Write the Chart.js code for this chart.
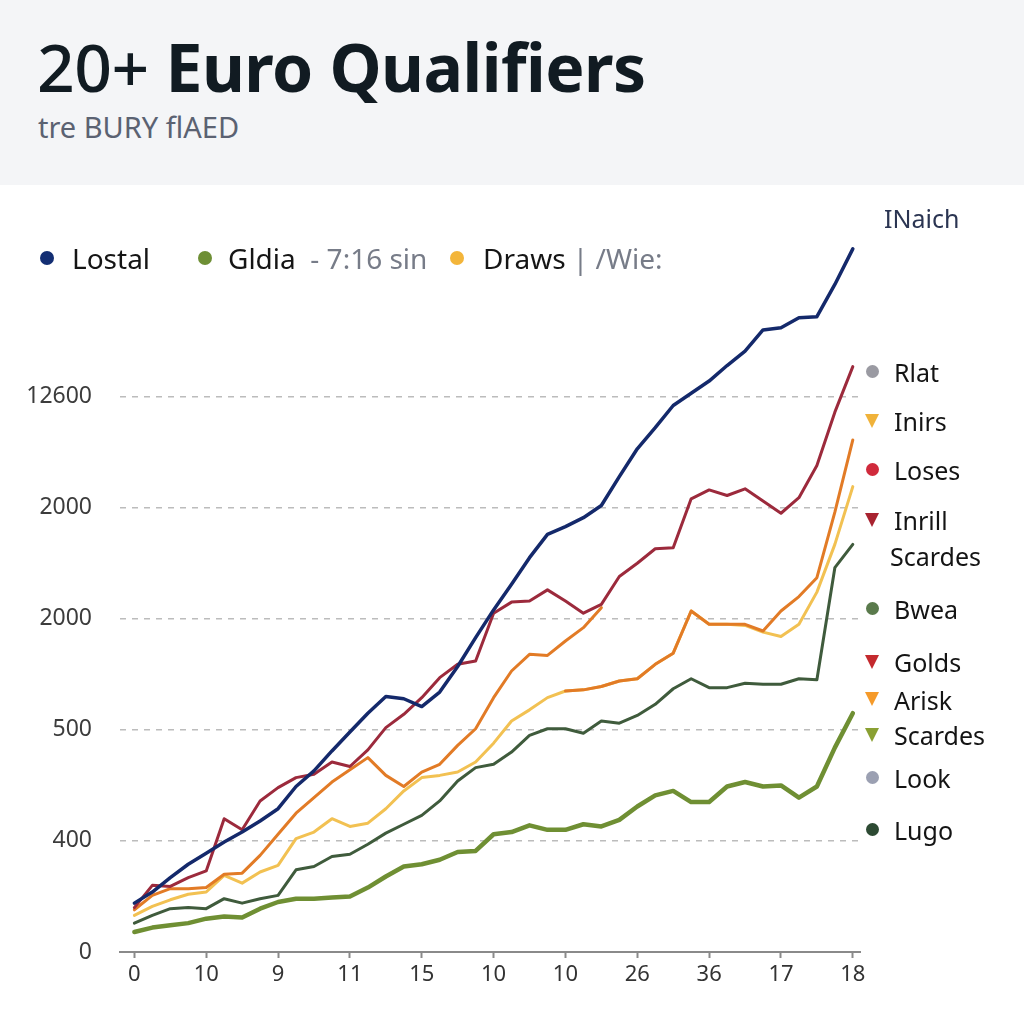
<!DOCTYPE html>
<html>
<head>
<meta charset="utf-8">
<script src="https://cdn.jsdelivr.net/npm/chart.js@4.4.0/dist/chart.umd.min.js"></script>
<style>
    html, body { margin: 0; padding: 0; width: 1024px; height: 1024px; background: #ffffff; overflow: hidden; }
    body { position: relative; font-family: 'Noto Sans', 'Open Sans', sans-serif; }
    .header { position: absolute; left: 0; top: 0; width: 1024px; height: 185px; background: #f4f5f7; }
    .title { position: absolute; left: 37px; top: 21px; font-size: 66px; font-weight: 700; color: #111b22; letter-spacing: -0.5px; white-space: nowrap; }
    .title .light { font-weight: 500; }
    .subtitle { position: absolute; left: 38px; top: 107px; font-size: 29px; color: #5b6272; white-space: nowrap; }
    .legend { position: absolute; left: 0; top: 236px; height: 44px; width: 1024px; font-size: 28px; color: #151515; }
    .legend .item { position: absolute; top: 0; white-space: nowrap; line-height: 44px; }
    .dot { position: absolute; width: 14px; height: 14px; border-radius: 50%; top: 15px; }
    .muted { color: #777c88; }
    .side { position: absolute; font-size: 25px; color: #141414; white-space: nowrap; line-height: 30px; }
    .mark { position: absolute; }
    .circle { width: 13px; height: 13px; border-radius: 50%; }
    .tri { width: 0; height: 0; border-left: 7px solid transparent; border-right: 7px solid transparent; border-top: 14px solid; }
    #wrap { position: absolute; left: 0; top: 0; width: 1024px; height: 1024px; }
</style>
</head>
<body>
<div class="header">
    <div class="title"><span class="light">20+</span> Euro Qualifiers</div>
    <div class="subtitle">tre BURY flAED</div>
</div>

<div id="wrap"><canvas id="chart" width="1024" height="1024"></canvas></div>

<div class="legend">
    <div class="dot" style="left:40px;background:#132e73"></div>
    <div class="item" style="left:72px">Lostal</div>
    <div class="dot" style="left:198px;background:#6e8f35"></div>
    <div class="item" style="left:228px">Gldia <span class="muted">&nbsp;- 7:16 sin</span></div>
    <div class="dot" style="left:450px;background:#f3b53a"></div>
    <div class="item" style="left:483px">Draws <span class="muted">| /Wie:</span></div>
</div>

<div class="side" style="left:884px;top:203px;color:#2b3552">INaich</div>

<div class="mark circle" style="left:866px;top:365px;background:#9a9aa2"></div>
<div class="side" style="left:894px;top:357px">Rlat</div>
<div class="mark tri" style="left:865px;top:414px;border-top-color:#f0b23a"></div>
<div class="side" style="left:894px;top:406px">Inirs</div>
<div class="mark circle" style="left:866px;top:463px;background:#d02a3c"></div>
<div class="side" style="left:894px;top:455px">Loses</div>
<div class="mark tri" style="left:865px;top:513px;border-top-color:#a82330"></div>
<div class="side" style="left:894px;top:505px">Inrill</div>
<div class="side" style="left:890px;top:541px">Scardes</div>
<div class="mark circle" style="left:866px;top:602px;background:#5a7a4c"></div>
<div class="side" style="left:894px;top:594px">Bwea</div>
<div class="mark tri" style="left:865px;top:655px;border-top-color:#c42a2e"></div>
<div class="side" style="left:894px;top:647px">Golds</div>
<div class="mark tri" style="left:865px;top:692px;border-top-color:#f59a2a"></div>
<div class="side" style="left:894px;top:685px">Arisk</div>
<div class="mark tri" style="left:865px;top:728px;border-top-color:#8aa033"></div>
<div class="side" style="left:894px;top:720px">Scardes</div>
<div class="mark circle" style="left:866px;top:771px;background:#9ba0b2"></div>
<div class="side" style="left:894px;top:763px">Look</div>
<div class="mark circle" style="left:866px;top:823px;background:#2d4a33"></div>
<div class="side" style="left:894px;top:815px">Lugo</div>

<script>
// Axis labels as printed
const xTickLabels = ['0', '10', '9', '11', '15', '10', '10', '26', '36', '17', '18'];
const yTickLabels = ['0', '400', '500', '2000', '2000', '12600'];

// Sample positions along the x axis (4 per labelled step)
const xs = [0, 0.25, 0.5, 0.75, 1, 1.25, 1.5, 1.75, 2, 2.25, 2.5, 2.75, 3, 3.25, 3.5, 3.75,
    4, 4.25, 4.5, 4.75, 5, 5.25, 5.5, 5.75, 6, 6.25, 6.5, 6.75, 7, 7.25, 7.5, 7.75,
    8, 8.25, 8.5, 8.75, 9, 9.25, 9.5, 9.75, 10];

// Series values (in gridline steps)
const lostal = [0.44, 0.54, 0.67, 0.79, 0.89, 0.99, 1.08, 1.18, 1.29, 1.49, 1.63, 1.81, 1.98, 2.15,
    2.30, 2.28, 2.21, 2.34, 2.57, 2.83, 3.08, 3.31, 3.55, 3.76, 3.83, 3.91, 4.02, 4.28, 4.53,
    4.72, 4.92, 5.03, 5.14, 5.28, 5.41, 5.60, 5.62, 5.71, 5.72, 6.01, 6.33];
const loses = [0.40, 0.60, 0.59, 0.67, 0.73, 1.20, 1.10, 1.36, 1.48, 1.57, 1.60, 1.71, 1.67, 1.82,
    2.02, 2.14, 2.29, 2.47, 2.59, 2.62, 3.05, 3.15, 3.16, 3.26, 3.16, 3.05, 3.13, 3.38, 3.50,
    3.63, 3.64, 4.08, 4.16, 4.11, 4.17, 4.06, 3.95, 4.09, 4.38, 4.86, 5.27];
const ariskEarly = [0.38, 0.51, 0.57, 0.57, 0.58, 0.70, 0.71, 0.87, 1.06, 1.25, 1.39, 1.53, 1.64, 1.75,
    1.59, 1.49, 1.62, 1.69, 1.86, 2.01, 2.29, 2.53, 2.68, 2.67, 2.80, 2.92, 3.10,
    null, null, null, null, null, null, null, null, null, null, null, null, null, null];
const ariskLate = [null, null, null, null, null, null, null, null, null, null, null, null, null, null,
    null, null, null, null, null, null, null, null, null, null,
    2.35, 2.36, 2.39, 2.44, 2.46, 2.59, 2.69, 3.07, 2.95, 2.95, 2.95, 2.89, 3.07, 3.20, 3.37, 3.96, 4.61];
const draws = [0.33, 0.41, 0.47, 0.52, 0.54, 0.69, 0.62, 0.72, 0.78, 1.02, 1.08, 1.20, 1.13, 1.16,
    1.29, 1.45, 1.57, 1.59, 1.62, 1.71, 1.88, 2.08, 2.18, 2.29, 2.35, 2.36, 2.39, 2.44, 2.46,
    2.59, 2.69, 3.07, 2.95, 2.95, 2.94, 2.88, 2.84, 2.95, 3.24, 3.67, 4.19];
const bwea = [0.26, 0.33, 0.39, 0.40, 0.39, 0.48, 0.44, 0.48, 0.51, 0.74, 0.77, 0.86, 0.88, 0.97,
    1.07, 1.15, 1.23, 1.36, 1.54, 1.66, 1.69, 1.80, 1.95, 2.01, 2.01, 1.97, 2.08, 2.06, 2.13,
    2.23, 2.37, 2.46, 2.38, 2.38, 2.42, 2.41, 2.41, 2.46, 2.45, 3.46, 3.67];
const gldia = [0.18, 0.22, 0.24, 0.26, 0.30, 0.32, 0.31, 0.39, 0.45, 0.48, 0.48, 0.49, 0.50, 0.58,
    0.68, 0.77, 0.79, 0.83, 0.90, 0.91, 1.06, 1.08, 1.14, 1.10, 1.10, 1.15, 1.13, 1.19, 1.31,
    1.41, 1.45, 1.35, 1.35, 1.49, 1.53, 1.49, 1.50, 1.39, 1.49, 1.84, 2.15];

const toPoints = (values) => values.map((v, i) => ({ x: xs[i], y: v }));

function lineDataset(label, values, color, width) {
    return {
        label,
        data: toPoints(values),
        borderColor: color,
        backgroundColor: color,
        borderWidth: width,
        pointRadius: 0,
        tension: 0,
        spanGaps: false,
        borderJoinStyle: 'round',
        borderCapStyle: 'round',
    };
}

const tickFont = { family: "'Noto Sans', 'Open Sans', sans-serif", size: 22 };

new Chart(document.getElementById('chart'), {
    type: 'line',
    data: {
        datasets: [
            lineDataset('Lostal', lostal, '#14296b', 3.5),
            lineDataset('Loses', loses, '#9c2a3c', 3),
            lineDataset('Arisk', ariskLate, '#e27b26', 3),
            lineDataset('Arisk early', ariskEarly, '#e27b26', 3),
            lineDataset('Draws', draws, '#f2c152', 3),
            lineDataset('Bwea', bwea, '#3f5b3c', 3),
            lineDataset('Gldia', gldia, '#6f8f33', 4.5),
        ],
    },
    options: {
        responsive: false,
        animation: false,
        layout: { padding: { left: 0, right: 164, top: 230, bottom: 22 } },
        plugins: {
            legend: { display: false },
            tooltip: { enabled: false },
        },
        scales: {
            x: {
                type: 'linear',
                min: -0.2,
                max: 10.1,
                afterBuildTicks: (scale) => {
                    scale.ticks = xTickLabels.map((_, i) => ({ value: i }));
                },
                afterFit: (scale) => { scale.height = 50; },
                ticks: {
                    autoSkip: false,
                    maxRotation: 0,
                    padding: 4,
                    color: '#333333',
                    font: tickFont,
                    callback: (value) => xTickLabels[value],
                },
                grid: {
                    drawOnChartArea: false,
                    drawTicks: true,
                    tickLength: 6,
                    tickColor: '#8a8a8a',
                    tickWidth: 2,
                },
                border: { display: true, color: '#8a8a8a', width: 2 },
            },
            y: {
                min: 0,
                max: 6.5,
                afterBuildTicks: (scale) => {
                    scale.ticks = yTickLabels.map((_, i) => ({ value: i }));
                },
                afterFit: (scale) => { scale.width = 120; },
                ticks: {
                    padding: 28,
                    color: '#3c3c3c',
                    font: { family: "'Noto Sans', 'Open Sans', sans-serif", size: 23 },
                    callback: (value) => yTickLabels[value],
                },
                grid: {
                    drawTicks: false,
                    lineWidth: 1.5,
                    color: (ctx) => (ctx.tick && ctx.tick.value === 0 ? 'rgba(0,0,0,0)' : '#bcbcbc'),
                },
                border: { display: false, dash: [6, 6] },
            },
        },
    },
});
</script>
</body>
</html>
